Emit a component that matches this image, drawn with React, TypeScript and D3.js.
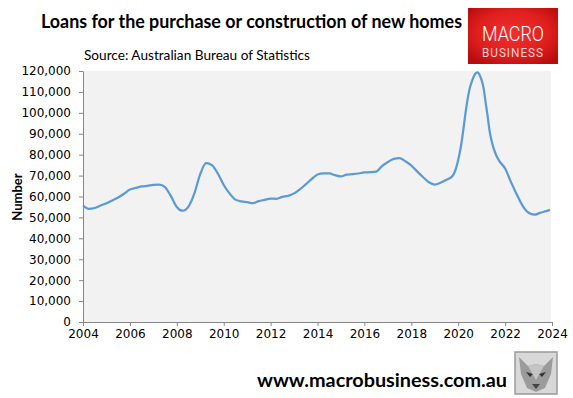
import React, { useRef, useEffect } from "react";
import * as d3 from "d3";

// monthly ABS series at roughly quarterly steps (monthly around the 2020 spike)
const months = [
  "2004-01", "2004-04", "2004-07", "2004-10",
  "2005-01", "2005-04", "2005-07", "2005-10",
  "2006-01", "2006-04", "2006-07", "2006-10",
  "2007-01", "2007-04", "2007-07", "2007-10",
  "2008-01", "2008-04", "2008-07", "2008-10",
  "2009-01", "2009-04", "2009-07", "2009-10",
  "2010-01", "2010-04", "2010-07", "2010-10",
  "2011-01", "2011-04", "2011-07", "2011-10",
  "2012-01", "2012-04", "2012-07", "2012-10",
  "2013-01", "2013-04", "2013-07", "2013-10",
  "2014-01", "2014-04", "2014-07", "2014-10",
  "2015-01", "2015-04", "2015-07", "2015-10",
  "2016-01", "2016-04", "2016-07", "2016-10",
  "2017-01", "2017-04", "2017-07", "2017-10",
  "2018-01", "2018-04", "2018-07", "2018-10",
  "2019-01", "2019-04", "2019-07", "2019-10", "2019-11", "2019-12",
  "2020-01", "2020-02", "2020-03", "2020-04", "2020-05", "2020-06",
  "2020-07", "2020-08", "2020-09", "2020-10", "2020-11", "2020-12",
  "2021-01", "2021-02", "2021-03", "2021-04", "2021-05", "2021-06",
  "2021-07", "2021-08", "2021-09", "2021-10",
  "2022-01", "2022-04", "2022-07", "2022-10",
  "2023-01", "2023-04", "2023-07", "2023-10", "2023-12",
];

const loans = [
  55600, 54100, 54500, 55700,
  56800, 58100, 59500, 61300,
  63300, 64100, 64800, 65100,
  65600, 65700, 64500, 60200,
  55000, 53200, 55200, 61500,
  70800, 76000, 75000, 71000,
  65500, 61500, 58500, 57700,
  57300, 56800, 57800, 58400,
  59000, 58900, 59800, 60300,
  61500, 63400, 65800, 68300,
  70500, 71000, 71000, 70200,
  69600, 70500, 70700, 71000,
  71500, 71600, 71900, 74500,
  76500, 78000, 78400, 76800,
  74800, 72000, 69300, 66800,
  65700, 66600, 68000, 69700, 71200, 73800,
  77500, 82000, 87500, 94500, 101500, 107500,
  112000, 115000, 117500, 119000, 119400, 118000,
  115500, 111500, 105500, 99000, 92000, 87000,
  83500, 80800, 78600, 77000,
  73400, 67000, 61000, 55500,
  52200, 51300, 52200, 53000, 53600,
];

const yTicks = [0, 10000, 20000, 30000, 40000, 50000, 60000, 70000, 80000, 90000, 100000, 110000, 120000];
const xYears = [2004, 2006, 2008, 2010, 2012, 2014, 2016, 2018, 2020, 2022, 2024];

function App() {
  const canvas = useRef(null);

  useEffect(() => {
    const width = 573;
    const height = 398;
    const margin = { top: 71, right: 21, bottom: 76, left: 83 };
    const parse = d3.timeParse("%Y-%m");
    const data = months.map((m, i) => ({ date: parse(m), value: loans[i] }));

    const svg = d3.select(canvas.current).attr("width", width).attr("height", height);
    svg.selectAll("*").remove();

    const x = d3
      .scaleTime()
      .domain([new Date(2004, 0, 1), new Date(2024, 0, 1)])
      .range([margin.left, 552]);
    const y = d3
      .scaleLinear()
      .domain([0, 120000])
      .range([height - margin.bottom, margin.top]);

    svg
      .append("rect")
      .attr("x", margin.left)
      .attr("y", margin.top)
      .attr("width", width - margin.right - margin.left - 1)
      .attr("height", height - margin.bottom - margin.top)
      .attr("fill", "#f2f2f2");

    const yAxisG = svg
      .append("g")
      .attr("transform", `translate(${margin.left},0)`)
      .call(
        d3
          .axisLeft(y)
          .tickValues(yTicks)
          .tickSize(4)
          .tickSizeOuter(0)
          .tickPadding(8)
          .tickFormat(d3.format(","))
      );
    const xAxisG = svg
      .append("g")
      .attr("transform", `translate(0,${height - margin.bottom})`)
      .call(
        d3
          .axisBottom(x)
          .tickValues(xYears.map((yr) => new Date(yr, 0, 1)))
          .tickSize(4)
          .tickSizeOuter(0)
          .tickPadding(3)
          .tickFormat(d3.timeFormat("%Y"))
      );
    [yAxisG, xAxisG].forEach((g) => {
      g.selectAll("path, line").attr("stroke", "#868686");
      g.selectAll("text")
        .attr("fill", "#000")
        .style("font-family", "'DejaVu Sans', Verdana, sans-serif")
        .style("font-size", "12px");
    });

    const line = d3
      .line()
      .x((d) => x(d.date))
      .y((d) => y(d.value))
      .curve(d3.curveMonotoneX);

    svg
      .append("path")
      .datum(data)
      .attr("d", line)
      .attr("fill", "none")
      .attr("stroke", "#5b9bd5")
      .attr("stroke-width", 2.25)
      .attr("stroke-linejoin", "round");

    svg
      .append("text")
      .attr("transform", `translate(22,197) rotate(-90)`)
      .attr("text-anchor", "middle")
      .style("font-family", "Lato, sans-serif")
      .style("font-weight", "bold")
      .style("font-size", "13px")
      .text("Number");
  }, []);

  const grad = "mbRed";
  return (
    <div style={{ position: "absolute", left: 0, top: 0 }}>
      <svg ref={canvas} style={{ display: "block" }} />
      <svg
        width={573}
        height={398}
        style={{ position: "absolute", left: 0, top: 0 }}
      >
        <defs>
          <radialGradient id={grad} cx="50%" cy="45%" r="65%">
            <stop offset="0%" stopColor="#f0302f" />
            <stop offset="60%" stopColor="#e0201f" />
            <stop offset="100%" stopColor="#b80c0c" />
          </radialGradient>
        </defs>
        <text
          x={41}
          y={28}
          textLength={421}
          lengthAdjust="spacingAndGlyphs"
          style={{ fontFamily: "Lato, sans-serif", fontWeight: "bold", fontSize: "18px" }}
        >
          Loans for the purchase or construction of new homes
        </text>
        <text
          x={84}
          y={60}
          textLength={226}
          lengthAdjust="spacingAndGlyphs"
          style={{ fontFamily: "Lato, sans-serif", fontSize: "13.5px" }}
        >
          Source: Australian Bureau of Statistics
        </text>
        <rect x={468} y={8} width={90} height={56} fill={`url(#${grad})`} />
        <text
          x={513}
          y={41}
          textAnchor="middle"
          fill="#fff"
          textLength={62}
          lengthAdjust="spacingAndGlyphs"
          style={{ fontFamily: "Roboto, sans-serif", fontWeight: 300, fontSize: "21px" }}
        >
          MACRO
        </text>
        <text
          x={513}
          y={57}
          textAnchor="middle"
          fill="#f6d0d0"
          textLength={62}
          lengthAdjust="spacingAndGlyphs"
          style={{ fontFamily: "Roboto, sans-serif", fontSize: "12px", letterSpacing: "1px" }}
        >
          BUSINESS
        </text>
        <text
          x={257}
          y={387}
          textLength={250}
          lengthAdjust="spacingAndGlyphs"
          style={{ fontFamily: "Lato, sans-serif", fontWeight: "bold", fontSize: "19px" }}
        >
          www.macrobusiness.com.au
        </text>
        <g>
          <rect x={515} y={352} width={42} height={42} fill="#d8d8d8" stroke="#9a9a9a" strokeWidth={1.5} />
          <path d="M519,357 L528,366 L536,364 L544,366 L553,357 L551,374 L545,388 L536,392 L527,388 L521,374 Z" fill="#9b9b9b" />
          <path d="M526,372 L533,374 L530,377 Z M546,372 L539,374 L542,377 Z" fill="#333" />
          <path d="M532,384 L540,384 L536,389 Z" fill="#444" />
          <path d="M528,366 L536,380 L544,366 L536,364 Z" fill="#c4c4c4" />
        </g>
      </svg>
    </div>
  );
}

export default App;
